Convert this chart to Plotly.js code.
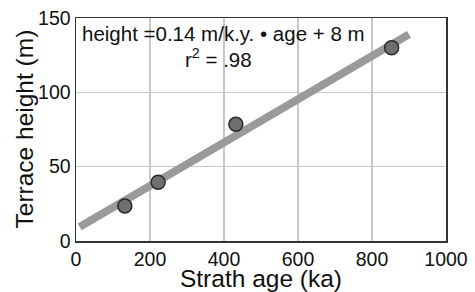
<!DOCTYPE html>
<html>
<head>
<meta charset="utf-8">
<script src="https://cdn.plot.ly/plotly-3.0.1.min.js"></script>
<style>html,body{margin:0;padding:0;background:#fff;}#chart{width:475px;height:292px;}</style>
</head>
<body>
<div id="chart"></div>
<script>
const strathAge = [132, 222, 432, 853];
const terraceHeight = [23.5, 39.5, 78.5, 130];
const fitAge = [10, 900];
const fitHeight = [9.5, 139];
const xTicks = [0, 200, 400, 600, 800, 1000];
const yTicks = [0, 50, 100, 150];
const xTitle = "Strath age (ka)";
const yTitle = "Terrace height (m)";
const eqText = "height =0.14 m/k.y. • age + 8 m";
const r2Text = "r<sup>2</sup> = .98";

const font = "Liberation Sans, Arial, sans-serif";
const data = [
  {x: fitAge, y: fitHeight, mode: "lines", line: {color: "#9a9a9a", width: 8}, hoverinfo: "skip", cliponaxis: false},
  {x: strathAge, y: terraceHeight, mode: "markers",
   marker: {size: 14, color: "#6f6f6f", line: {color: "#2a2a2a", width: 1.5}}, cliponaxis: false}
];
const layout = {
  width: 475, height: 292,
  margin: {l: 76, r: 29, t: 18, b: 51},
  paper_bgcolor: "#fff", plot_bgcolor: "#fff",
  showlegend: false,
  font: {family: font, color: "#111"},
  xaxis: {
    range: [0, 1000], tickvals: xTicks, ticktext: xTicks.map(String),
    tickfont: {size: 19.5, family: font, color: "#111"},
    showgrid: true, gridcolor: "#c8c8c8", gridwidth: 1.5,
    showline: true, linecolor: "#333", linewidth: 1.5, mirror: true,
    zeroline: false, ticks: "",
    title: {text: xTitle, font: {size: 24.5, family: font, color: "#111"}, standoff: 1}
  },
  yaxis: {
    range: [0, 150], tickvals: yTicks, ticktext: yTicks.map(String),
    tickfont: {size: 19.5, family: font, color: "#111"},
    showgrid: true, gridcolor: "#c8c8c8", gridwidth: 1.5,
    showline: true, linecolor: "#333", linewidth: 1.5, mirror: true,
    zeroline: false, ticks: ""
  },
  annotations: [
    {text: yTitle, xref: "paper", yref: "paper", x: 0, y: 0.5, xanchor: "center", yanchor: "middle",
     xshift: -52, textangle: -90, showarrow: false, font: {size: 24.5, family: font, color: "#111"}},
    {text: eqText, xref: "paper", yref: "paper", x: 0.012, y: 0.93, xanchor: "left", yanchor: "middle",
     showarrow: false, font: {size: 20.5, family: font, color: "#111"}},
    {text: r2Text, xref: "paper", yref: "paper", x: 0.385, y: 0.82, xanchor: "center", yanchor: "middle",
     showarrow: false, font: {size: 20.5, family: font, color: "#111"}}
  ]
};
Plotly.newPlot("chart", data, layout, {staticPlot: true, displayModeBar: false});
</script>
</body>
</html>
